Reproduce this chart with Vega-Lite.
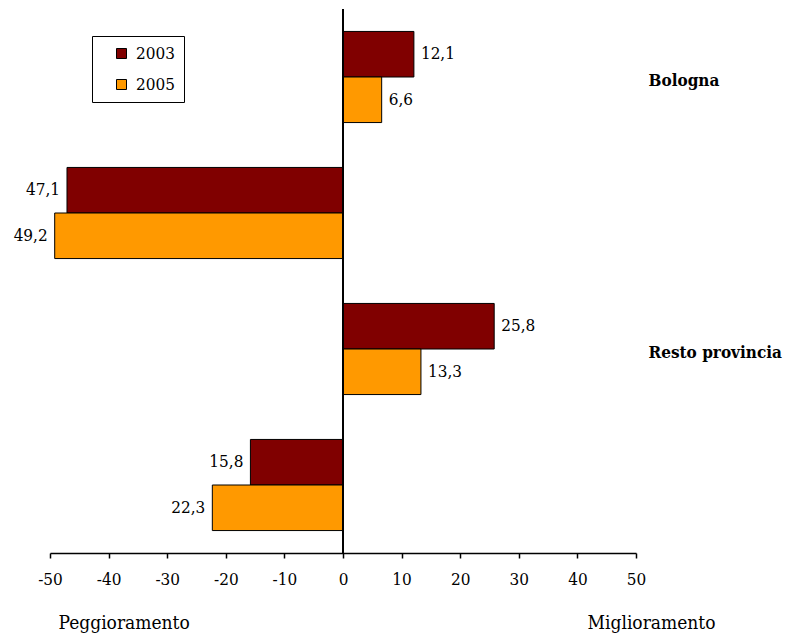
{
  "$schema": "https://vega.github.io/schema/vega-lite/v6.json",
  "width": 586,
  "height": 544,
  "autosize": {"type": "none"},
  "padding": {"left": 50, "top": 9, "right": 159, "bottom": 81},
  "background": "white",
  "config": {
    "font": "DejaVu Serif Condensed",
    "view": {"stroke": null},
    "locale": {"number": {"decimal": ",", "thousands": ".", "grouping": [3], "currency": ["", " €"], "minus": "-"}}
  },
  "data": {"values": [
    {"group": "B+", "year": "2003", "value": 12.1, "label": "12,1"},
    {"group": "B+", "year": "2005", "value": 6.6, "label": "6,6"},
    {"group": "B-", "year": "2003", "value": -47.1, "label": "47,1"},
    {"group": "B-", "year": "2005", "value": -49.2, "label": "49,2"},
    {"group": "R+", "year": "2003", "value": 25.8, "label": "25,8"},
    {"group": "R+", "year": "2005", "value": 13.3, "label": "13,3"},
    {"group": "R-", "year": "2003", "value": -15.8, "label": "15,8"},
    {"group": "R-", "year": "2005", "value": -22.3, "label": "22,3"}
  ]},
  "layer": [
    {
      "encoding": {
        "y": {
          "field": "group", "type": "nominal",
          "scale": {"domain": ["B+", "B-", "R+", "R-"], "paddingInner": 0.33, "paddingOuter": 0.165},
          "axis": {
            "orient": "right", "domain": false, "ticks": false, "grid": false,
            "labelPadding": 12,
            "labelExpr": "datum.value == 'B+' ? 'Bologna' : (datum.value == 'R+' ? 'Resto provincia' : '')",
            "labelFontSize": 17, "labelFontWeight": "bold", "labelColor": "black",
            "labelAlign": "left", "labelBaseline": "middle", "labelOffset": 4,
            "title": "Miglioramento", "titleAngle": 0, "titleX": 79, "titleY": 619,
            "titleAlign": "right", "titleBaseline": "alphabetic",
            "titleFontSize": 19, "titleFontWeight": "normal", "titleColor": "black"
          }
        },
        "yOffset": {"field": "year", "type": "nominal", "scale": {"domain": ["2003", "2005"], "paddingInner": 0, "paddingOuter": 0}},
        "x": {
          "field": "value", "type": "quantitative",
          "scale": {"domain": [-50, 50], "nice": false},
          "axis": {
            "values": [-50, -40, -30, -20, -10, 0, 10, 20, 30, 40, 50],
            "format": "d", "grid": false,
            "domainColor": "black", "domainWidth": 1.5,
            "tickColor": "black", "tickWidth": 1.5, "tickSize": 5,
            "labelFontSize": 17, "labelColor": "black", "labelPadding": 13,
            "labelFlush": false, "labelOverlap": false,
            "title": "Peggioramento", "titleFontSize": 19, "titleFontWeight": "normal",
            "titleColor": "black", "titleAlign": "left", "titleX": 8, "titleY": 75,
            "titleBaseline": "alphabetic"
          }
        }
      },
      "layer": [
        {
          "mark": {"type": "bar", "stroke": "black", "strokeWidth": 1},
          "encoding": {
            "color": {
              "field": "year", "type": "nominal",
              "scale": {"domain": ["2003", "2005"], "range": ["#800000", "#FF9900"]},
              "legend": {
                "title": null, "orient": "none", "legendX": 42, "legendY": 27,
                "strokeColor": "black", "fillColor": "white", "padding": 9,
                "symbolType": "square", "symbolSize": 100,
                "symbolStrokeColor": "black", "symbolStrokeWidth": 1,
                "symbolOffset": 12,
                "labelFontSize": 17, "labelColor": "black", "labelOffset": 6,
                "rowPadding": 13
              }
            }
          }
        },
        {
          "transform": [{"filter": "datum.value > 0"}],
          "mark": {"type": "text", "align": "left", "baseline": "middle", "dx": 7, "fontSize": 17, "color": "black"},
          "encoding": {"text": {"field": "label", "type": "nominal"}}
        },
        {
          "transform": [{"filter": "datum.value < 0"}],
          "mark": {"type": "text", "align": "right", "baseline": "middle", "dx": -7, "fontSize": 17, "color": "black"},
          "encoding": {"text": {"field": "label", "type": "nominal"}}
        }
      ]
    },
    {
      "mark": {"type": "rule", "color": "black", "strokeWidth": 1},
      "encoding": {"x": {"datum": 0}}
    }
  ]
}
